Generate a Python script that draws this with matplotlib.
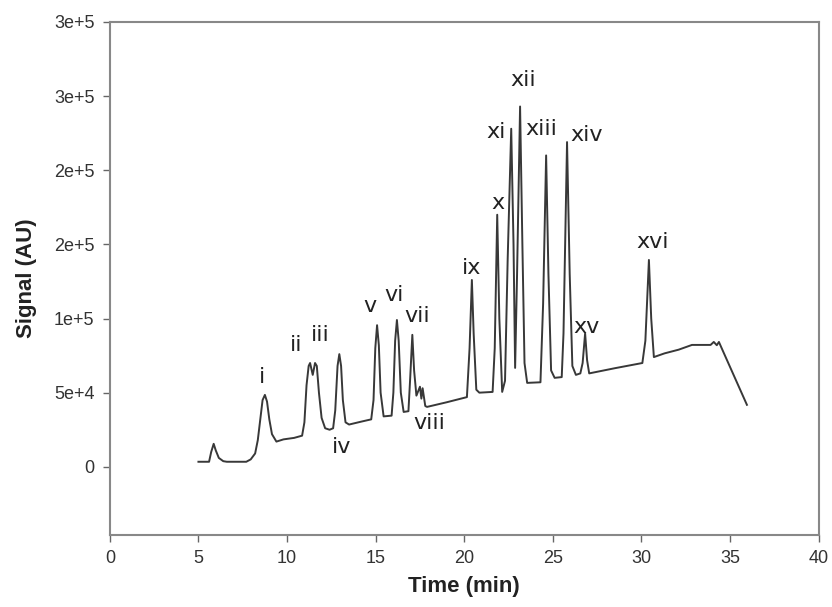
import matplotlib.pyplot as plt

# chromatogram trace: retention time (min) vs detector signal (AU)
time_min = [5.0, 5.6, 5.72, 5.86, 5.98, 6.15, 6.4, 6.6, 7.7, 7.95, 8.2, 8.35, 8.5, 8.62, 8.75,
            8.87, 9.0, 9.15, 9.4, 9.8, 10.4, 10.85, 10.98, 11.1, 11.22, 11.3, 11.45, 11.58,
            11.68, 11.8, 11.95, 12.15, 12.4, 12.6, 12.72, 12.85, 12.95, 13.05, 13.15, 13.3,
            13.5, 14.2, 14.75, 14.88, 14.98, 15.08, 15.18, 15.28, 15.45, 15.9, 16.0, 16.1,
            16.2, 16.3, 16.42, 16.58, 16.85, 16.95, 17.07, 17.17, 17.3, 17.5, 17.58, 17.65,
            17.8, 17.9, 19.0, 20.15, 20.3, 20.43, 20.53, 20.68, 20.85, 21.6, 21.72, 21.86,
            21.98, 22.14, 22.3, 22.45, 22.65, 22.78, 22.87, 22.98, 23.15, 23.28, 23.4, 23.55,
            24.3, 24.45, 24.62, 24.75, 24.9, 25.1, 25.5, 25.6, 25.8, 25.95, 26.1, 26.3, 26.55,
            26.68, 26.82, 26.93, 27.05, 28.5, 30.05, 30.22, 30.42, 30.55, 30.7, 31.3, 32.1,
            32.85, 33.9, 34.08, 34.25, 34.37, 34.6, 35.95]
signal_au = [3400, 3400, 10000, 15500, 11000, 6000, 3800, 3400, 3400, 5000, 9000, 18000, 33000,
             45000, 48500, 44000, 32000, 22000, 17000, 18500, 19500, 21000, 30000, 55000, 68000,
             70000, 62000, 70000, 68000, 50000, 33000, 26000, 25000, 26000, 38000, 68000, 76000,
             68000, 45000, 30000, 28500, 30500, 32000, 45000, 80000, 95500, 82000, 50000, 34000,
             34500, 50000, 85000, 99000, 85000, 50000, 37000, 37500, 60000, 89000, 65000, 48000,
             54000, 46000, 53000, 41000, 40400, 43500, 47000, 80000, 126000, 90000, 52000, 50000,
             50500, 80000, 170000, 100000, 50500, 58000, 140000, 228000, 150000, 66700, 130000,
             243000, 150000, 70000, 56600, 57000, 110000, 210000, 130000, 65000, 60000, 60500,
             90000, 219000, 130000, 68000, 62000, 63000, 70000, 90000, 72000, 63000, 66500,
             70000, 85000, 139500, 100000, 74000, 76500, 79000, 82200, 82200, 84200, 82000,
             84200, 78000, 41800]

# peak annotations
peak_names = ['i', 'ii', 'iii', 'iv', 'v', 'vi', 'vii', 'viii',
              'ix', 'x', 'xi', 'xii', 'xiii', 'xiv', 'xv', 'xvi']
peak_label_t = [8.56, 10.5, 11.9, 13.1, 14.7, 16.05, 17.35, 18.0,
                20.4, 21.9, 21.8, 23.3, 24.35, 26.9, 26.9, 30.65]
peak_label_s = [60600, 82000, 89000, 13500, 108500, 116000, 102000, 29600,
                134000, 178000, 226000, 261000, 228000, 223700, 94300, 151600]

x_ticks = [0, 5, 10, 15, 20, 25, 30, 35, 40]
y_ticks = [0, 5e4, 1e5, 1.5e5, 2e5, 2.5e5, 3e5]
y_tick_labels = ['0', '5e+4', '1e+5', '2e+5', '2e+5', '3e+5', '3e+5']

fig = plt.figure(figsize=(8.32, 6.07), dpi=100)
ax = fig.add_axes([0.132, 0.1186, 0.852, 0.8452])

ax.plot(time_min, signal_au, color='#383838', linewidth=1.4)

for name, t, s in zip(peak_names, peak_label_t, peak_label_s):
    ax.text(t, s, name, ha='center', va='center', fontsize=16,
            family='DejaVu Sans', color='#222222')

ax.set_xlim(0, 40)
ax.set_ylim(-46000, 3e5)
ax.set_xticks(x_ticks)
ax.set_yticks(y_ticks)
ax.set_yticklabels(y_tick_labels)

for sp in ax.spines.values():
    sp.set_color('#888888')
    sp.set_linewidth(1.5)

ax.tick_params(direction='out', length=5, width=1, color='#666666',
               labelsize=13, labelcolor='#333333', pad=6)
for lab in ax.get_xticklabels() + ax.get_yticklabels():
    lab.set_family('Liberation Sans')

ax.set_xlabel('Time (min)', fontsize=16, fontweight='bold', family='Liberation Sans',
              color='#222222', labelpad=6)
ax.set_ylabel('Signal (AU)', fontsize=16, fontweight='bold', family='Liberation Sans',
              color='#222222', labelpad=12)

fig.savefig('out.png', dpi=100)
